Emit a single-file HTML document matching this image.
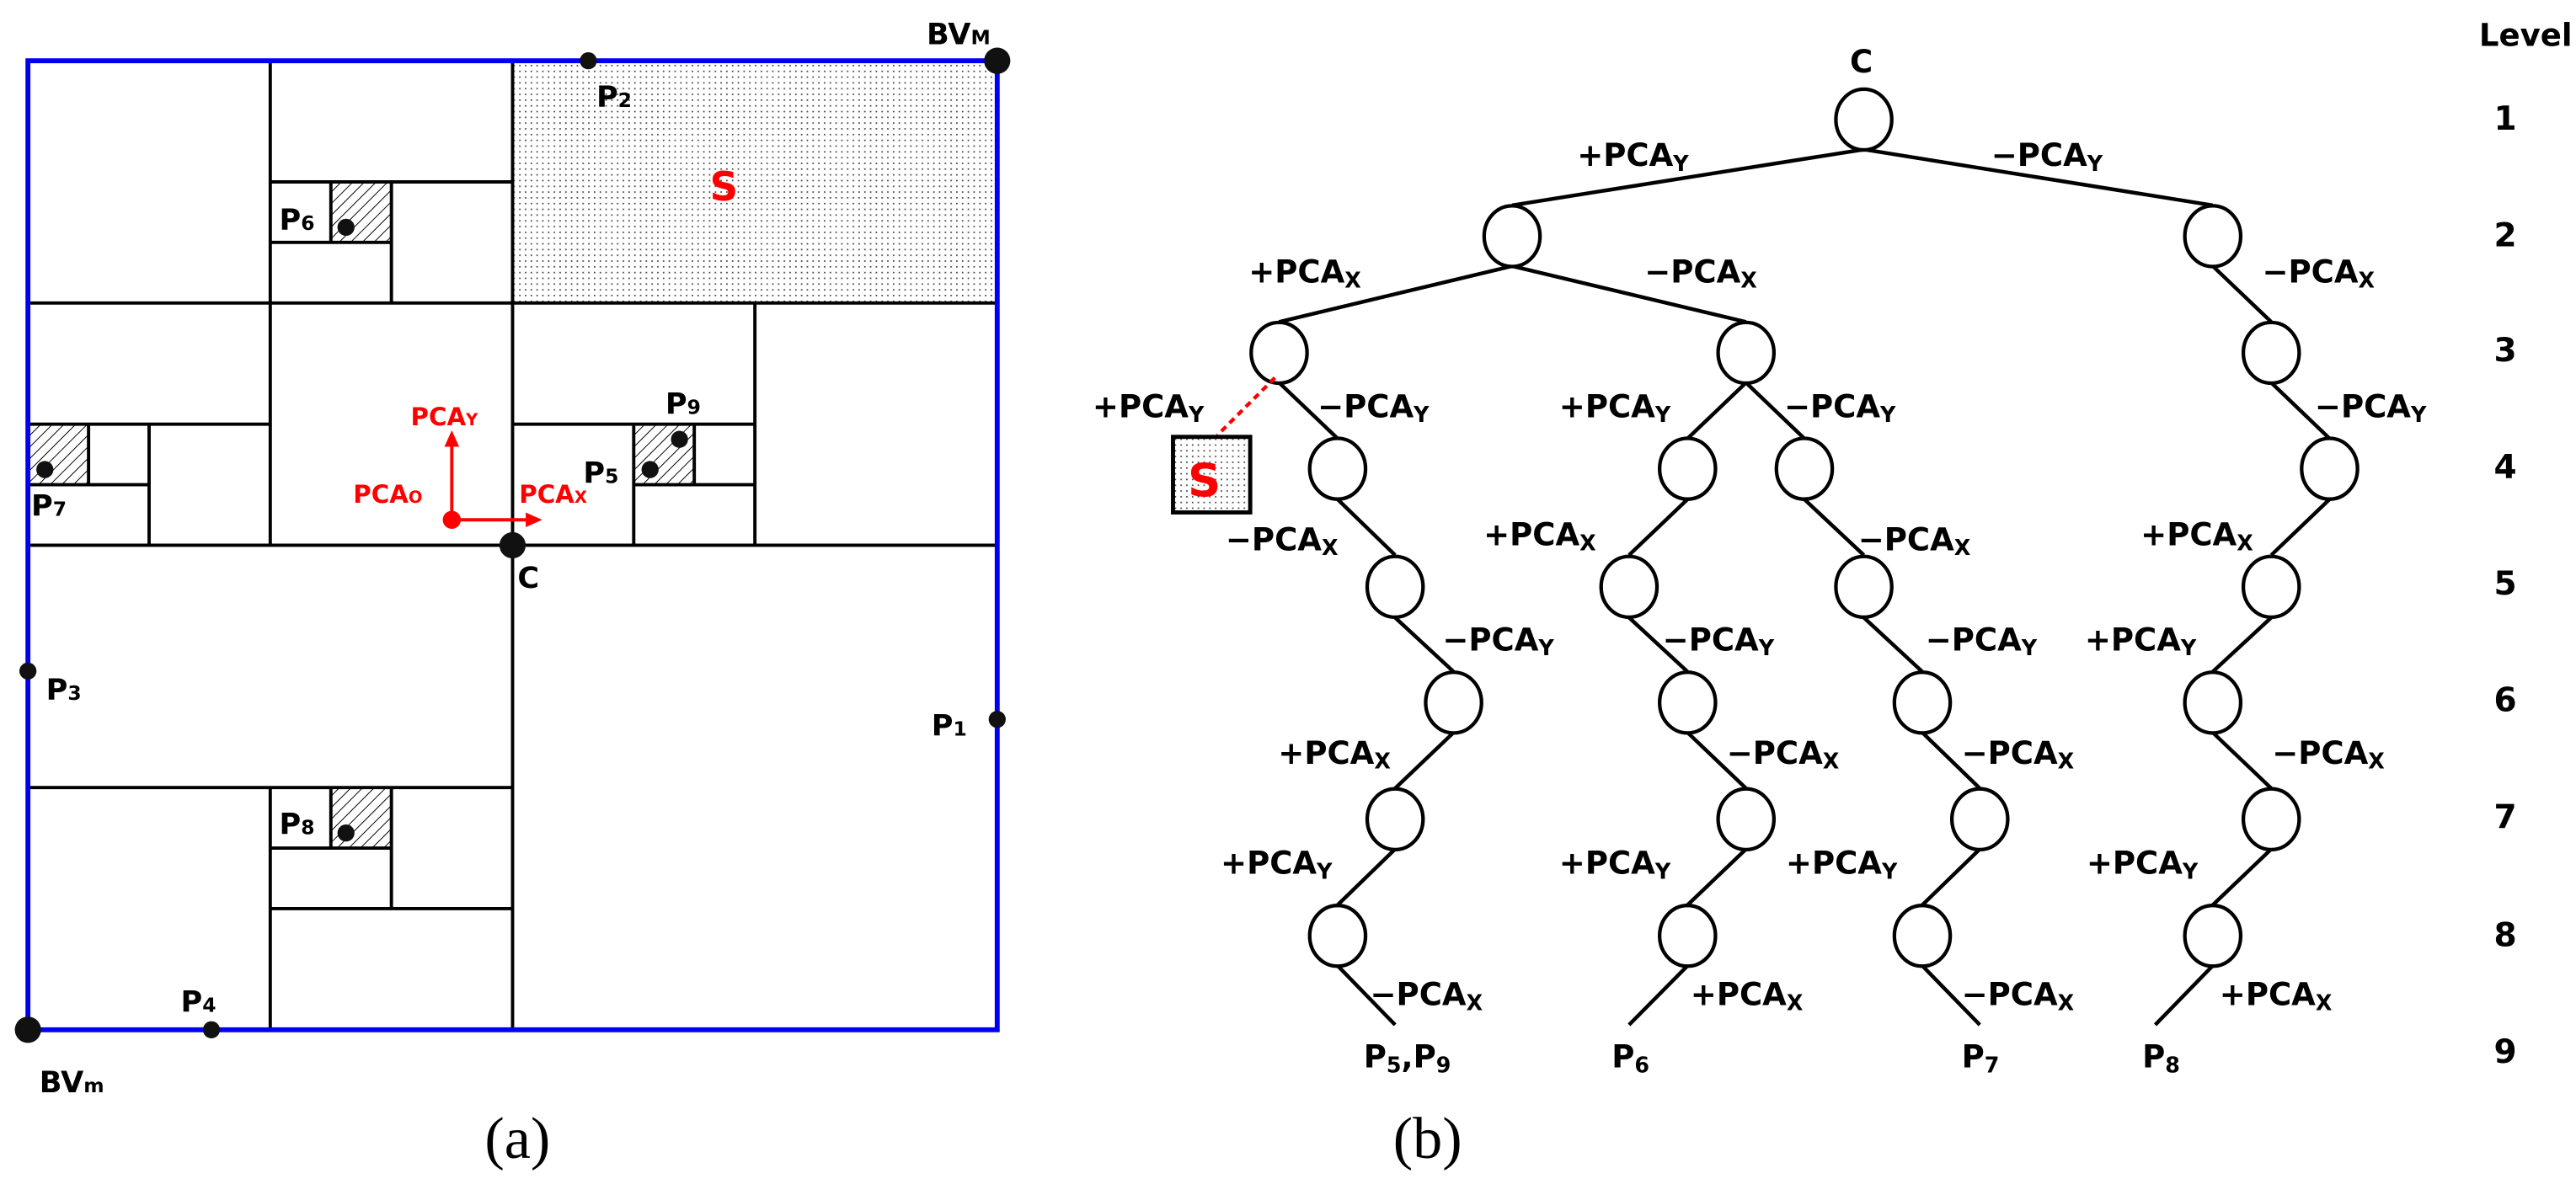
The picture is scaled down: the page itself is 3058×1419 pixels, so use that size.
<!DOCTYPE html>
<html><head><meta charset="utf-8"><style>
html,body{margin:0;padding:0;background:#fff;}
svg{display:block;}
text{font-family:"DejaVu Sans","Liberation Sans",sans-serif;font-weight:bold;}
</style></head><body>
<svg width="3058" height="1419" viewBox="0 0 1568 727.6" xmlns="http://www.w3.org/2000/svg">
<defs>
<pattern id="dots" width="3.5" height="3.5" patternUnits="userSpaceOnUse"><rect width="3.5" height="3.5" fill="#fff"/><rect x="1" y="1" width="0.9" height="0.9" fill="#444"/></pattern>
<pattern id="hatch" width="5" height="5" patternUnits="userSpaceOnUse" patternTransform="rotate(45)"><rect width="5" height="5" fill="#fff"/><line x1="0" y1="0" x2="0" y2="5" stroke="#000" stroke-width="1"/></pattern>
</defs>
<rect x="312" y="37" width="295" height="147.5" fill="url(#dots)"/>
<rect x="201.4" y="110.75" width="36.875" height="36.875" fill="url(#hatch)"/>
<rect x="17" y="258.25" width="36.875" height="36.875" fill="url(#hatch)"/>
<rect x="385.75" y="258.25" width="36.875" height="36.875" fill="url(#hatch)"/>
<rect x="201.4" y="479.5" width="36.875" height="36.875" fill="url(#hatch)"/>
<g stroke="#000" stroke-width="2" fill="none">
 <line x1="164.5" y1="37" x2="164.5" y2="332"/>
 <line x1="164.5" y1="479.5" x2="164.5" y2="627"/>
 <line x1="312" y1="37" x2="312" y2="627"/>
 <line x1="17" y1="184.5" x2="607" y2="184.5"/>
 <line x1="17" y1="332" x2="607" y2="332"/>
 <line x1="17" y1="479.5" x2="312" y2="479.5"/>
 <line x1="164.5" y1="110.75" x2="312" y2="110.75"/>
 <line x1="238.25" y1="110.75" x2="238.25" y2="184.5"/>
 <line x1="164.5" y1="147.6" x2="238.25" y2="147.6"/>
 <line x1="201.4" y1="110.75" x2="201.4" y2="147.6"/>
 <line x1="17" y1="258.25" x2="164.5" y2="258.25"/>
 <line x1="90.75" y1="258.25" x2="90.75" y2="332"/>
 <line x1="17" y1="295.1" x2="90.75" y2="295.1"/>
 <line x1="53.9" y1="258.25" x2="53.9" y2="295.1"/>
 <line x1="459.5" y1="184.5" x2="459.5" y2="332"/>
 <line x1="312" y1="258.25" x2="459.5" y2="258.25"/>
 <line x1="385.75" y1="258.25" x2="385.75" y2="332"/>
 <line x1="385.75" y1="295.1" x2="459.5" y2="295.1"/>
 <line x1="422.6" y1="258.25" x2="422.6" y2="295.1"/>
 <line x1="164.5" y1="553.25" x2="312" y2="553.25"/>
 <line x1="238.25" y1="479.5" x2="238.25" y2="553.25"/>
 <line x1="164.5" y1="516.4" x2="238.25" y2="516.4"/>
 <line x1="201.4" y1="479.5" x2="201.4" y2="516.4"/>
</g>
<rect x="17" y="37" width="590" height="590" fill="none" stroke="#0000ee" stroke-width="3"/>
<g fill="#111">
 <circle cx="210.6" cy="138.4" r="5.2"/>
 <circle cx="27.3" cy="285.9" r="5.2"/>
 <circle cx="395.7" cy="285.9" r="5.2"/>
 <circle cx="413.6" cy="267.5" r="5.2"/>
 <circle cx="210.6" cy="507.2" r="5.2"/>
 <circle cx="312" cy="332" r="8"/>
 <circle cx="607" cy="37" r="8"/>
 <circle cx="17" cy="627" r="8"/>
 <circle cx="358.1" cy="37" r="5.2"/>
 <circle cx="607" cy="438" r="5.2"/>
 <circle cx="17" cy="408.6" r="5.2"/>
 <circle cx="128.7" cy="627" r="5.2"/>
</g>
<g stroke="#f00" stroke-width="2" fill="#f00">
 <line x1="275" y1="316.5" x2="275" y2="270"/>
 <polygon points="270.5,272 279.5,272 275,262" stroke="none"/>
 <line x1="275" y1="316.5" x2="322" y2="316.5"/>
 <polygon points="320,312 320,321 330,316.5" stroke="none"/>
 <circle cx="275" cy="316.5" r="5.5" stroke="none"/>
</g>
<g font-size="18" fill="#000">
 <text x="564" y="27">BV<tspan font-size="12">M</tspan></text>
 <text x="363" y="65">P<tspan font-size="12">2</tspan></text>
 <text x="170" y="140">P<tspan font-size="12">6</tspan></text>
 <text x="405" y="252">P<tspan font-size="12">9</tspan></text>
 <text x="355" y="294">P<tspan font-size="12">5</tspan></text>
 <text x="19" y="314">P<tspan font-size="12">7</tspan></text>
 <text x="315" y="358">C</text>
 <text x="28" y="426">P<tspan font-size="12">3</tspan></text>
 <text x="567" y="448">P<tspan font-size="12">1</tspan></text>
 <text x="170" y="508">P<tspan font-size="12">8</tspan></text>
 <text x="110" y="616">P<tspan font-size="12">4</tspan></text>
 <text x="24" y="665">BV<tspan font-size="12">m</tspan></text>
</g>
<g font-size="15" fill="#f00">
 <text x="250" y="259">PCA<tspan font-size="10">Y</tspan></text>
 <text x="215" y="306">PCA<tspan font-size="10">O</tspan></text>
 <text x="316" y="306">PCA<tspan font-size="10">X</tspan></text>
</g>
<text x="432" y="122" font-size="24" fill="#f00">S</text>
<text x="295" y="705" font-size="36" style="font-family:'Liberation Serif',serif;font-weight:normal">(a)</text>

<g stroke="#000" stroke-width="2.3" fill="none">
 <line x1="1134.5" y1="91" x2="920.4" y2="125"/>
 <line x1="1134.5" y1="91" x2="1346.9" y2="125"/>
 <line x1="920.4" y1="162" x2="778.6" y2="196"/>
 <line x1="920.4" y1="162" x2="1062.8" y2="196"/>
 <line x1="778.6" y1="233" x2="814.2" y2="267"/>
 <line x1="814.2" y1="304" x2="849.2" y2="338"/>
 <line x1="849.2" y1="376" x2="884.8" y2="409"/>
 <line x1="884.8" y1="446" x2="849.2" y2="480"/>
 <line x1="849.2" y1="517" x2="814.2" y2="551"/>
 <line x1="814.2" y1="588" x2="849.2" y2="624"/>
 <line x1="1062.8" y1="233" x2="1027.2" y2="267"/>
 <line x1="1062.8" y1="233" x2="1098.3" y2="267"/>
 <line x1="1027.2" y1="304" x2="991.6" y2="338"/>
 <line x1="991.6" y1="376" x2="1027.2" y2="409"/>
 <line x1="1027.2" y1="446" x2="1062.8" y2="480"/>
 <line x1="1062.8" y1="517" x2="1027.2" y2="551"/>
 <line x1="1027.2" y1="588" x2="991.6" y2="624"/>
 <line x1="1098.3" y1="304" x2="1134.5" y2="338"/>
 <line x1="1134.5" y1="376" x2="1170.1" y2="409"/>
 <line x1="1170.1" y1="446" x2="1205.1" y2="480"/>
 <line x1="1205.1" y1="517" x2="1170.1" y2="551"/>
 <line x1="1170.1" y1="588" x2="1205.1" y2="624"/>
 <line x1="1346.9" y1="162" x2="1382.5" y2="196"/>
 <line x1="1382.5" y1="233" x2="1418" y2="267"/>
 <line x1="1418" y1="304" x2="1382.5" y2="338"/>
 <line x1="1382.5" y1="376" x2="1346.9" y2="409"/>
 <line x1="1346.9" y1="446" x2="1382.5" y2="480"/>
 <line x1="1382.5" y1="517" x2="1346.9" y2="551"/>
 <line x1="1346.9" y1="588" x2="1311.9" y2="624"/>
</g>
<g stroke="#000" stroke-width="2.2" fill="#fff">
 <ellipse cx="1134.5" cy="72.8" rx="17" ry="18.5"/>
 <ellipse cx="920.4" cy="143.8" rx="17" ry="18.5"/>
 <ellipse cx="1346.9" cy="143.8" rx="17" ry="18.5"/>
 <ellipse cx="778.6" cy="214.8" rx="17" ry="18.5"/>
 <ellipse cx="1062.8" cy="214.8" rx="17" ry="18.5"/>
 <ellipse cx="1382.5" cy="214.8" rx="17" ry="18.5"/>
 <ellipse cx="814.2" cy="285.4" rx="17" ry="18.5"/>
 <ellipse cx="1027.2" cy="285.4" rx="17" ry="18.5"/>
 <ellipse cx="1098.3" cy="285.4" rx="17" ry="18.5"/>
 <ellipse cx="1418" cy="285.4" rx="17" ry="18.5"/>
 <ellipse cx="849.2" cy="357.3" rx="17" ry="18.5"/>
 <ellipse cx="991.6" cy="357.3" rx="17" ry="18.5"/>
 <ellipse cx="1134.5" cy="357.3" rx="17" ry="18.5"/>
 <ellipse cx="1382.5" cy="357.3" rx="17" ry="18.5"/>
 <ellipse cx="884.8" cy="427.8" rx="17" ry="18.5"/>
 <ellipse cx="1027.2" cy="427.8" rx="17" ry="18.5"/>
 <ellipse cx="1170.1" cy="427.8" rx="17" ry="18.5"/>
 <ellipse cx="1346.9" cy="427.8" rx="17" ry="18.5"/>
 <ellipse cx="849.2" cy="498.8" rx="17" ry="18.5"/>
 <ellipse cx="1062.8" cy="498.8" rx="17" ry="18.5"/>
 <ellipse cx="1205.1" cy="498.8" rx="17" ry="18.5"/>
 <ellipse cx="1382.5" cy="498.8" rx="17" ry="18.5"/>
 <ellipse cx="814.2" cy="569.8" rx="17" ry="18.5"/>
 <ellipse cx="1027.2" cy="569.8" rx="17" ry="18.5"/>
 <ellipse cx="1170.1" cy="569.8" rx="17" ry="18.5"/>
 <ellipse cx="1346.9" cy="569.8" rx="17" ry="18.5"/>
</g>
<line x1="776" y1="230" x2="741" y2="265" stroke="#f00" stroke-width="2.2" stroke-dasharray="4,3"/>
<rect x="714" y="266" width="47" height="46" fill="url(#dots)" stroke="#000" stroke-width="2.5"/>
<text x="723" y="302" font-size="28" fill="#f00">S</text>
<g font-size="19" fill="#000">
 <text x="1126" y="44">C</text>
 <text x="960" y="101">+PCA<tspan font-size="13" dy="3">Y</tspan></text>
 <text x="1212" y="101">−PCA<tspan font-size="13" dy="3">Y</tspan></text>
 <text x="760" y="172">+PCA<tspan font-size="13" dy="3">X</tspan></text>
 <text x="1001" y="172">−PCA<tspan font-size="13" dy="3">X</tspan></text>
 <text x="1377" y="172">−PCA<tspan font-size="13" dy="3">X</tspan></text>
 <text x="665" y="254">+PCA<tspan font-size="13" dy="3">Y</tspan></text>
 <text x="802" y="254">−PCA<tspan font-size="13" dy="3">Y</tspan></text>
 <text x="949" y="254">+PCA<tspan font-size="13" dy="3">Y</tspan></text>
 <text x="1086" y="254">−PCA<tspan font-size="13" dy="3">Y</tspan></text>
 <text x="1409" y="254">−PCA<tspan font-size="13" dy="3">Y</tspan></text>
 <text x="746" y="335">−PCA<tspan font-size="13" dy="3">X</tspan></text>
 <text x="903" y="332">+PCA<tspan font-size="13" dy="3">X</tspan></text>
 <text x="1131" y="335">−PCA<tspan font-size="13" dy="3">X</tspan></text>
 <text x="1303" y="332">+PCA<tspan font-size="13" dy="3">X</tspan></text>
 <text x="878" y="396">−PCA<tspan font-size="13" dy="3">Y</tspan></text>
 <text x="1012" y="396">−PCA<tspan font-size="13" dy="3">Y</tspan></text>
 <text x="1172" y="396">−PCA<tspan font-size="13" dy="3">Y</tspan></text>
 <text x="1269" y="396">+PCA<tspan font-size="13" dy="3">Y</tspan></text>
 <text x="778" y="465">+PCA<tspan font-size="13" dy="3">X</tspan></text>
 <text x="1051" y="465">−PCA<tspan font-size="13" dy="3">X</tspan></text>
 <text x="1194" y="465">−PCA<tspan font-size="13" dy="3">X</tspan></text>
 <text x="1383" y="465">−PCA<tspan font-size="13" dy="3">X</tspan></text>
 <text x="743" y="532">+PCA<tspan font-size="13" dy="3">Y</tspan></text>
 <text x="949" y="532">+PCA<tspan font-size="13" dy="3">Y</tspan></text>
 <text x="1087" y="532">+PCA<tspan font-size="13" dy="3">Y</tspan></text>
 <text x="1270" y="532">+PCA<tspan font-size="13" dy="3">Y</tspan></text>
 <text x="834" y="612">−PCA<tspan font-size="13" dy="3">X</tspan></text>
 <text x="1029" y="612">+PCA<tspan font-size="13" dy="3">X</tspan></text>
 <text x="1194" y="612">−PCA<tspan font-size="13" dy="3">X</tspan></text>
 <text x="1351" y="612">+PCA<tspan font-size="13" dy="3">X</tspan></text>
 <text x="830" y="650">P<tspan font-size="13" dy="3">5</tspan><tspan dy="-3">,P</tspan><tspan font-size="13" dy="3">9</tspan></text>
 <text x="981" y="650">P<tspan font-size="13" dy="3">6</tspan></text>
 <text x="1194" y="650">P<tspan font-size="13" dy="3">7</tspan></text>
 <text x="1304" y="650">P<tspan font-size="13" dy="3">8</tspan></text>
 <text x="1509" y="28">Level</text>
</g>
<g font-size="20" fill="#000" text-anchor="middle">
 <text x="1525" y="79">1</text>
 <text x="1525" y="150">2</text>
 <text x="1525" y="220">3</text>
 <text x="1525" y="291">4</text>
 <text x="1525" y="362">5</text>
 <text x="1525" y="433">6</text>
 <text x="1525" y="504">7</text>
 <text x="1525" y="576">8</text>
 <text x="1525" y="647">9</text>
</g>
<text x="848" y="705" font-size="36" style="font-family:'Liberation Serif',serif;font-weight:normal">(b)</text>
</svg>
</body></html>
